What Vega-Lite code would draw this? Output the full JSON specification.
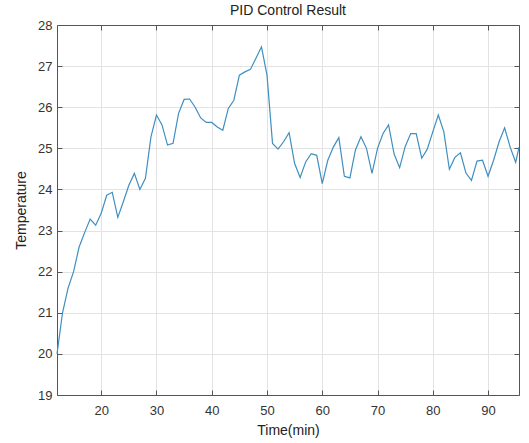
{
  "$schema": "https://vega.github.io/schema/vega-lite/v6.json",
  "width": 462,
  "height": 370,
  "autosize": {"type": "none"},
  "padding": {"left": 57, "top": 25, "right": 10, "bottom": 48},
  "background": "white",
  "title": {"text": "PID Control Result", "fontSize": 14, "fontWeight": "normal", "font": "Liberation Sans", "color": "#222222", "offset": 1},
  "config": {
    "view": {"stroke": null},
    "axis": {"labelFont": "Liberation Sans", "titleFont": "Liberation Sans", "labelFontSize": 13, "titleFontSize": 14, "titleFontWeight": "normal", "labelColor": "#333333", "titleColor": "#222222", "domainColor": "#555555", "tickColor": "#555555", "gridColor": "#e3e3e3"}
  },
  "data": {"values": [
    {"t": 12, "temp": 20.0}, {"t": 13, "temp": 21.0}, {"t": 14, "temp": 21.6}, {"t": 15, "temp": 22.0},
    {"t": 16, "temp": 22.6}, {"t": 17, "temp": 22.95}, {"t": 18, "temp": 23.28}, {"t": 19, "temp": 23.13},
    {"t": 20, "temp": 23.42}, {"t": 21, "temp": 23.86}, {"t": 22, "temp": 23.93}, {"t": 23, "temp": 23.32},
    {"t": 24, "temp": 23.7}, {"t": 25, "temp": 24.1}, {"t": 26, "temp": 24.39}, {"t": 27, "temp": 24.0},
    {"t": 28, "temp": 24.27}, {"t": 29, "temp": 25.28}, {"t": 30, "temp": 25.81}, {"t": 31, "temp": 25.57},
    {"t": 32, "temp": 25.08}, {"t": 33, "temp": 25.12}, {"t": 34, "temp": 25.85}, {"t": 35, "temp": 26.19},
    {"t": 36, "temp": 26.2}, {"t": 37, "temp": 26.0}, {"t": 38, "temp": 25.74}, {"t": 39, "temp": 25.63},
    {"t": 40, "temp": 25.63}, {"t": 41, "temp": 25.52}, {"t": 42, "temp": 25.44}, {"t": 43, "temp": 25.97},
    {"t": 44, "temp": 26.17}, {"t": 45, "temp": 26.78}, {"t": 46, "temp": 26.86}, {"t": 47, "temp": 26.92},
    {"t": 48, "temp": 27.19}, {"t": 49, "temp": 27.47}, {"t": 50, "temp": 26.78}, {"t": 51, "temp": 25.12},
    {"t": 52, "temp": 24.98}, {"t": 53, "temp": 25.16}, {"t": 54, "temp": 25.38}, {"t": 55, "temp": 24.63},
    {"t": 56, "temp": 24.29}, {"t": 57, "temp": 24.67}, {"t": 58, "temp": 24.87}, {"t": 59, "temp": 24.83},
    {"t": 60, "temp": 24.14}, {"t": 61, "temp": 24.71}, {"t": 62, "temp": 25.03}, {"t": 63, "temp": 25.26},
    {"t": 64, "temp": 24.32}, {"t": 65, "temp": 24.28}, {"t": 66, "temp": 24.96}, {"t": 67, "temp": 25.28},
    {"t": 68, "temp": 25.0}, {"t": 69, "temp": 24.39}, {"t": 70, "temp": 25.0}, {"t": 71, "temp": 25.36},
    {"t": 72, "temp": 25.57}, {"t": 73, "temp": 24.86}, {"t": 74, "temp": 24.53}, {"t": 75, "temp": 25.04},
    {"t": 76, "temp": 25.36}, {"t": 77, "temp": 25.36}, {"t": 78, "temp": 24.76}, {"t": 79, "temp": 24.98},
    {"t": 80, "temp": 25.4}, {"t": 81, "temp": 25.81}, {"t": 82, "temp": 25.4}, {"t": 83, "temp": 24.49},
    {"t": 84, "temp": 24.78}, {"t": 85, "temp": 24.89}, {"t": 86, "temp": 24.4}, {"t": 87, "temp": 24.22},
    {"t": 88, "temp": 24.69}, {"t": 89, "temp": 24.71}, {"t": 90, "temp": 24.32}, {"t": 91, "temp": 24.71},
    {"t": 92, "temp": 25.16}, {"t": 93, "temp": 25.5}, {"t": 94, "temp": 25.03}, {"t": 95, "temp": 24.66},
    {"t": 95.6, "temp": 25.03}
  ]},
  "layer": [
    {
      "mark": {"type": "line", "color": "#3f8fc0", "strokeWidth": 1.2},
      "encoding": {
        "x": {"field": "t", "type": "quantitative", "scale": {"domain": [12, 95.6], "nice": false, "zero": false},
              "axis": {"orient": "bottom", "title": "Time(min)", "values": [20, 30, 40, 50, 60, 70, 80, 90], "grid": true, "tickSize": -5, "labelPadding": 14, "titlePadding": 6, "domain": true}},
        "y": {"field": "temp", "type": "quantitative", "scale": {"domain": [19, 28], "nice": false, "zero": false},
              "axis": {"orient": "left", "title": "Temperature", "values": [19, 20, 21, 22, 23, 24, 25, 26, 27, 28], "grid": true, "tickSize": -5, "labelPadding": 10, "titlePadding": 9, "domain": true}}
      }
    },
    {
      "mark": {"type": "line", "strokeOpacity": 0},
      "encoding": {
        "x": {"field": "t", "type": "quantitative",
              "axis": {"orient": "top", "title": null, "labels": false, "values": [20, 30, 40, 50, 60, 70, 80, 90], "grid": false, "tickSize": -5, "domain": true}},
        "y": {"field": "temp", "type": "quantitative",
              "axis": {"orient": "right", "title": null, "labels": false, "values": [19, 20, 21, 22, 23, 24, 25, 26, 27, 28], "grid": false, "tickSize": -5, "domain": true}}
      }
    }
  ],
  "resolve": {"axis": {"x": "independent", "y": "independent"}}
}
